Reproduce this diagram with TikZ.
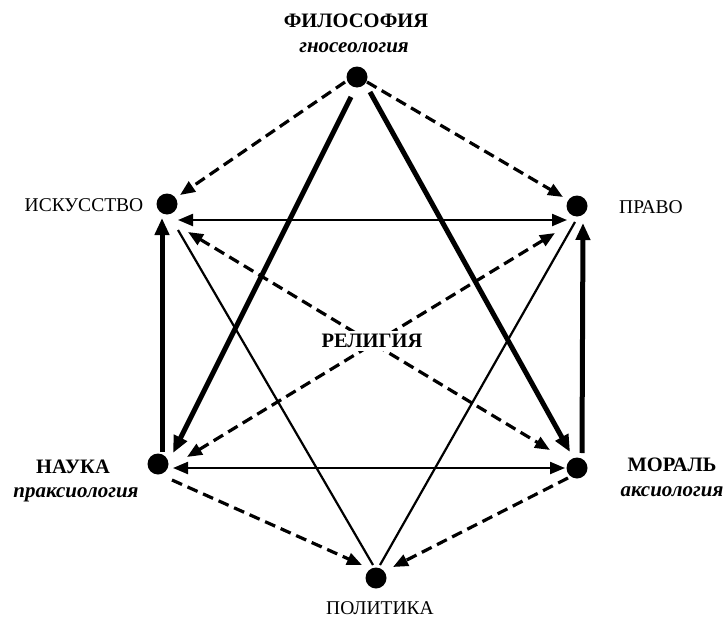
\documentclass[tikz,border=0pt]{standalone}
\usepackage{fontspec}
\setmainfont{Liberation Serif}
\usetikzlibrary{arrows.meta,calc}
\tikzset{
  dot/.style={circle,fill=black,inner sep=0pt,minimum size=21pt},
  lbl/.style={inner sep=0pt,font=\fontsize{19.5}{22}\selectfont},
  blbl/.style={inner sep=0pt,font=\fontsize{20.5}{23}\selectfont\bfseries},
  ilbl/.style={inner sep=0pt,font=\fontsize{21}{24}\selectfont\bfseries\itshape},
  thin line/.style={line width=2.2pt},
  thick line/.style={line width=5pt},
  dash line/.style={line width=3.2pt,dash pattern=on 11pt off 6pt},
  tip/.style={-{Triangle[length=15pt,width=12pt]}},
  tiptwo/.style={{Triangle[length=15pt,width=12pt]}-{Triangle[length=15pt,width=12pt]}},
  tipthick/.style={-{Triangle[length=17pt,width=14pt]}},
}
\begin{document}
\begin{tikzpicture}[x=1pt,y=-1pt]
\path[use as bounding box] (0,0) rectangle (726,621);
% dots
\node[dot] (F) at (357,77) {};
\node[dot] (I) at (167,204) {};
\node[dot] (P) at (577,206) {};
\node[dot] (N) at (158,464) {};
\node[dot] (M) at (577,468) {};
\node[dot] (Pol) at (376,578) {};
% labels
\node[blbl] (tF) at (356,21) {ФИЛОСОФИЯ};
\node[ilbl] (tF2) at (354,48) {гносеология};
\node[lbl] (tI) at (84,205) {ИСКУССТВО};
\node[lbl] (tP) at (651,207) {ПРАВО};
\node[blbl] (tN) at (73,467) {НАУКА};
\node[ilbl] (tN2) at (76,495) {праксиология};
\node[blbl] (tM) at (672,465) {МОРАЛЬ};
\node[ilbl] (tM2) at (672,492) {аксиология};
\node[lbl] (tPol) at (380,608) {ПОЛИТИКА};
% dashed from top
\draw[dash line,tip] ($(F)+(-12,5)$) -- ($(I)+(13,-9)$);
\draw[dash line,tip] ($(F)+(10,5)$) -- ($(P)+(-14,-9)$);
% thick from top
\draw[thick line,tipthick] ($(F)+(-6,20)$) -- ($(N)+(15,-11)$);
\draw[thick line,tipthick] ($(F)+(13,15)$) -- ($(M)+(-7,-16)$);
% horizontals
\draw[thin line,tiptwo] ($(I)+(11,16)$) -- ($(P)+(-10,14)$);
\draw[thin line,tiptwo] ($(N)+(15,4)$) -- ($(M)+(-12,0)$);
% verticals
\draw[thick line,tipthick] ($(N)+(4,-12)$) -- ($(I)+(-5,14)$);
\draw[thick line,tipthick] ($(M)+(5,-15)$) -- ($(P)+(6,17)$);
% dashed diagonals
\draw[dash line,tiptwo] ($(I)+(21,28)$) -- ($(M)+(-27,-18)$);
\draw[dash line,tiptwo] ($(N)+(29,-7)$) -- ($(P)+(-22,27)$);
% thin to politics
\draw[thin line] ($(I)+(11,26)$) -- ($(Pol)+(-3,-13)$);
\draw[thin line] ($(P)+(-2,16)$) -- ($(Pol)+(4,-13)$);
% dashed to politics
\draw[dash line,tip] ($(N)+(14,16)$) -- ($(Pol)+(-14,-13)$);
\draw[dash line,tip] ($(M)+(-9,10)$) -- ($(Pol)+(17,-11)$);
% centre label over the lines
\node[blbl,fill=white,inner xsep=3pt,inner ysep=3pt] (tR) at (372,341) {РЕЛИГИЯ};
\end{tikzpicture}
\end{document}
